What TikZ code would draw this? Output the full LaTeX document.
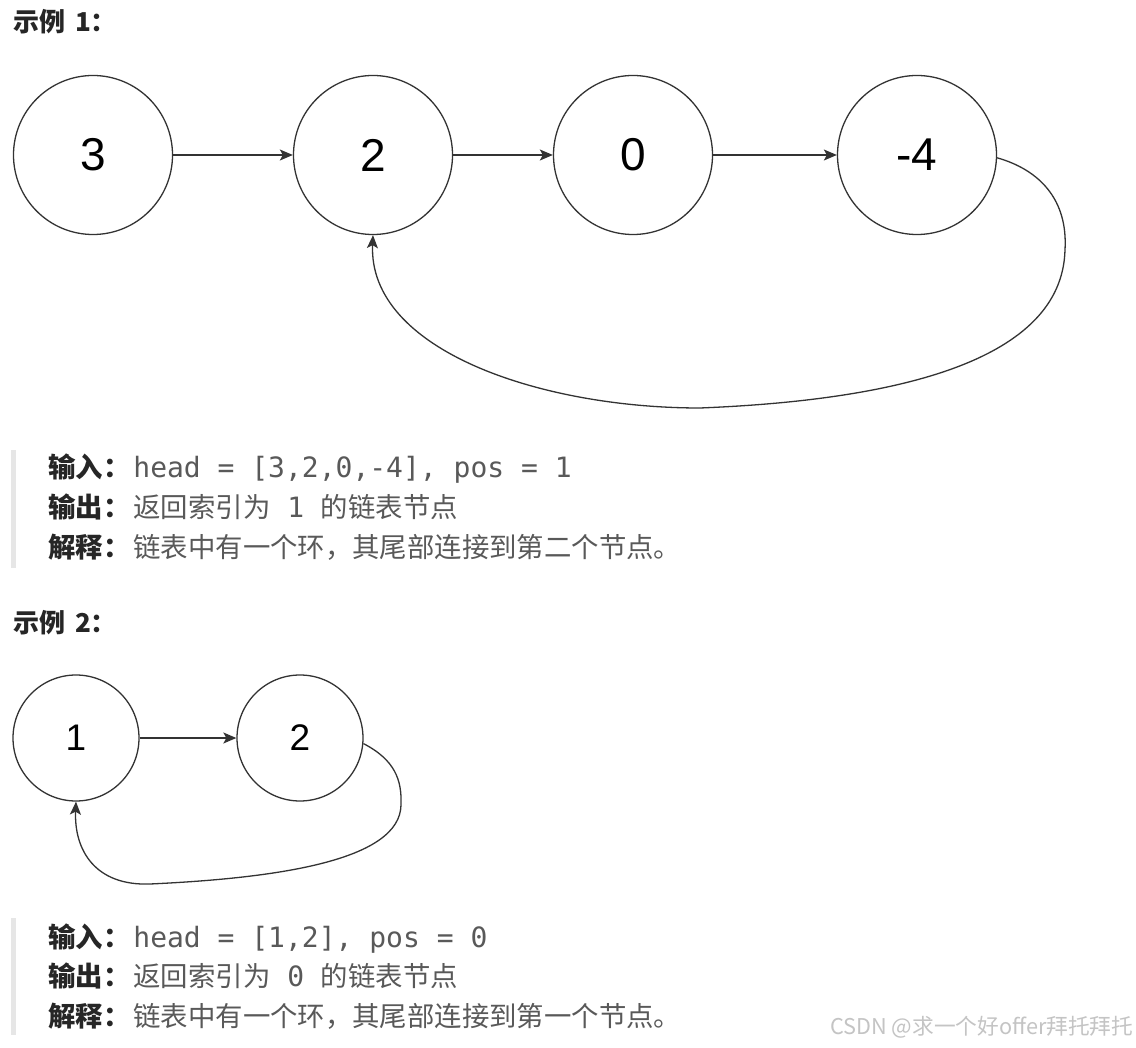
\documentclass[tikz,border=0pt]{standalone}
\usepackage{fontspec}
\setmainfont{Liberation Sans}
\newfontfamily\cjk{Noto Sans CJK SC}
\newfontfamily\codefont{DejaVu Sans Mono}
\usetikzlibrary{arrows.meta}
\definecolor{inkgray}{HTML}{333333}
\definecolor{titleblack}{HTML}{262626}
\definecolor{bodygray}{HTML}{595959}
\definecolor{bargray}{HTML}{E6E6E6}
\definecolor{markgray}{HTML}{C4C4C4}
\newcommand{\codetxt}[1]{{\codefont\fontsize{28}{30}\selectfont #1}}
\newcommand{\lbl}[1]{{\bfseries\color{titleblack}#1}\kern3pt}
\tikzset{
  listnode/.style={circle, draw=inkgray, line width=1.3pt, inner sep=0pt,
    minimum size=159pt, font=\fontsize{46}{46}\selectfont},
  smallnode/.style={listnode, minimum size=126pt, font=\fontsize{37}{37}\selectfont},
  link/.style={-{Stealth[length=13pt,width=11pt,inset=3pt]}, line width=1.3pt, draw=inkgray},
  heading/.style={anchor=base west, inner sep=0pt, text=titleblack,
    font=\cjk\bfseries\fontsize{26}{30}\selectfont},
  textline/.style={anchor=base west, inner sep=0pt, text=bodygray,
    font=\cjk\fontsize{27.4}{30}\selectfont},
}
\begin{document}
\begin{tikzpicture}[x=1pt,y=-1pt]
  \useasboundingbox[fill=white] (0,0) rectangle (1136,1048);

  % example 1
  \node[heading] (t1) at (13,32) {示例\kern4pt\ 1：};
  \node[listnode] (a3) at (93,155) {3};
  \node[listnode] (a2) at (373,155) {2};
  \node[listnode] (a0) at (633,155) {0};
  \node[listnode] (a4) at (917,155) {-4};
  \draw[link] (a3) -- (a2);
  \draw[link] (a2) -- (a0);
  \draw[link] (a0) -- (a4);
  \draw[link] (a4.-2) .. controls (1040,170) and (1068,200) .. (1065,250)
    .. controls (1062,360) and (900,400) .. (700,408)
    .. controls (540,408) and (368,350) .. (a2.south);

  \fill[bargray] (11,450) rectangle (16,568);
  \node[textline] (in1) at (48,478) {\lbl{输入：}\codetxt{head = [3,2,0,-4], pos = 1}};
  \node[textline] (out1) at (48,518) {\lbl{输出：}返回索引为\codetxt{ 1 }的链表节点};
  \node[textline] (exp1) at (48,558) {\lbl{解释：}链表中有一个环，其尾部连接到第二个节点。};

  % example 2
  \node[heading] (t2) at (13,632) {示例\kern4pt\ 2：};
  \node[smallnode] (b1) at (76,738) {1};
  \node[smallnode] (b2) at (300,738) {2};
  \draw[link] (b1) -- (b2);
  \draw[link] (b2.-5) .. controls (395,760) and (402,780) .. (401,805)
    .. controls (400,860) and (280,878) .. (150,884)
    .. controls (95,886) and (74,850) .. (b1.south);

  \fill[bargray] (11,918) rectangle (16,1035);
  \node[textline] (in2) at (48,947) {\lbl{输入：}\codetxt{head = [1,2], pos = 0}};
  \node[textline] (out2) at (48,986) {\lbl{输出：}返回索引为\codetxt{ 0 }的链表节点};
  \node[textline] (exp2) at (48,1026) {\lbl{解释：}链表中有一个环，其尾部连接到第一个节点。};

  \node[anchor=base west, inner sep=0pt, text=markgray, font=\cjk\fontsize{21.7}{24}\selectfont]
    (mark) at (830,1034) {CSDN @求一个好offer拜托拜托};
\end{tikzpicture}
\end{document}
